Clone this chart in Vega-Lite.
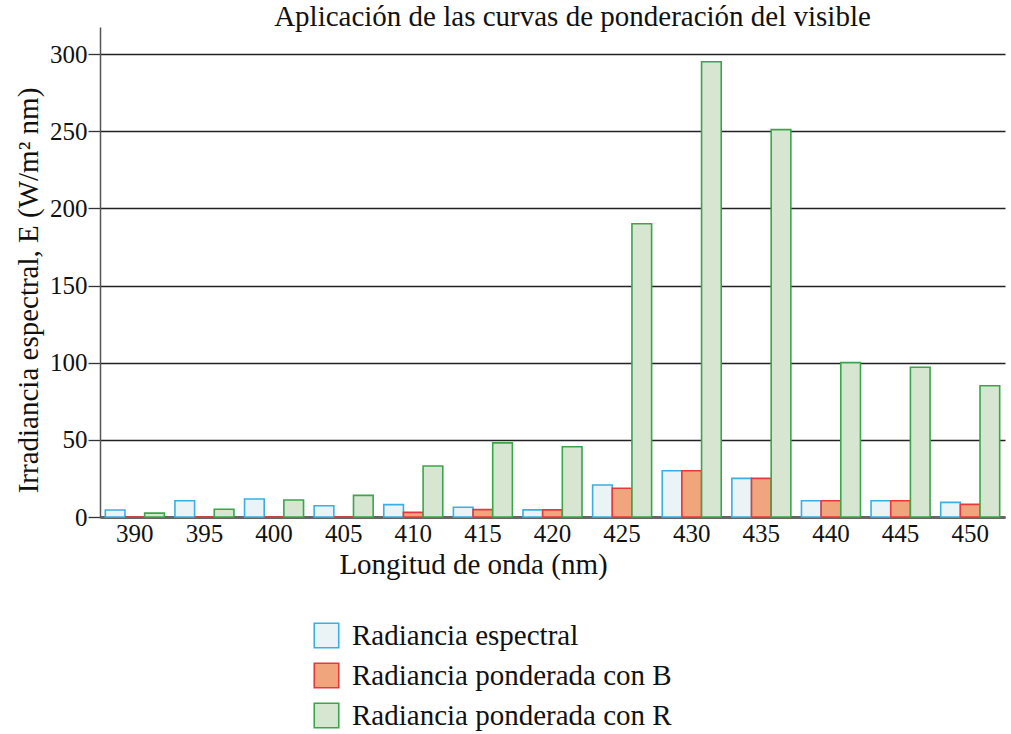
{
  "$schema": "https://vega.github.io/schema/vega-lite/v6.json",
  "width": 905,
  "height": 490,
  "autosize": "none",
  "padding": {"left": 100, "top": 27, "right": 6, "bottom": 217},
  "title": {"text": "Aplicación de las curvas de ponderación del visible", "font": "Liberation Serif", "fontSize": 29, "fontWeight": "normal", "color": "#111", "anchor": "middle", "dx": 20, "offset": 0, "baseline": "alphabetic", "dy": 28},
  "config": {
    "view": {"stroke": null},
    "font": "Liberation Serif"
  },
  "data": {"values": [
    {"wl": "390", "serie": "Radiancia espectral", "v": 4.5},
    {"wl": "390", "serie": "Radiancia ponderada con B", "v": 0},
    {"wl": "390", "serie": "Radiancia ponderada con R", "v": 2.5},
    {"wl": "395", "serie": "Radiancia espectral", "v": 10.5},
    {"wl": "395", "serie": "Radiancia ponderada con B", "v": 0},
    {"wl": "395", "serie": "Radiancia ponderada con R", "v": 5},
    {"wl": "400", "serie": "Radiancia espectral", "v": 11.7},
    {"wl": "400", "serie": "Radiancia ponderada con B", "v": 0},
    {"wl": "400", "serie": "Radiancia ponderada con R", "v": 11},
    {"wl": "405", "serie": "Radiancia espectral", "v": 7.3},
    {"wl": "405", "serie": "Radiancia ponderada con B", "v": 0},
    {"wl": "405", "serie": "Radiancia ponderada con R", "v": 14},
    {"wl": "410", "serie": "Radiancia espectral", "v": 8},
    {"wl": "410", "serie": "Radiancia ponderada con B", "v": 3},
    {"wl": "410", "serie": "Radiancia ponderada con R", "v": 33},
    {"wl": "415", "serie": "Radiancia espectral", "v": 6.3},
    {"wl": "415", "serie": "Radiancia ponderada con B", "v": 4.8},
    {"wl": "415", "serie": "Radiancia ponderada con R", "v": 48},
    {"wl": "420", "serie": "Radiancia espectral", "v": 4.6},
    {"wl": "420", "serie": "Radiancia ponderada con B", "v": 4.6},
    {"wl": "420", "serie": "Radiancia ponderada con R", "v": 45.5},
    {"wl": "425", "serie": "Radiancia espectral", "v": 20.7},
    {"wl": "425", "serie": "Radiancia ponderada con B", "v": 18.6},
    {"wl": "425", "serie": "Radiancia ponderada con R", "v": 190},
    {"wl": "430", "serie": "Radiancia espectral", "v": 30},
    {"wl": "430", "serie": "Radiancia ponderada con B", "v": 30},
    {"wl": "430", "serie": "Radiancia ponderada con R", "v": 295},
    {"wl": "435", "serie": "Radiancia espectral", "v": 25},
    {"wl": "435", "serie": "Radiancia ponderada con B", "v": 25},
    {"wl": "435", "serie": "Radiancia ponderada con R", "v": 251},
    {"wl": "440", "serie": "Radiancia espectral", "v": 10.5},
    {"wl": "440", "serie": "Radiancia ponderada con B", "v": 10.5},
    {"wl": "440", "serie": "Radiancia ponderada con R", "v": 100},
    {"wl": "445", "serie": "Radiancia espectral", "v": 10.5},
    {"wl": "445", "serie": "Radiancia ponderada con B", "v": 10.5},
    {"wl": "445", "serie": "Radiancia ponderada con R", "v": 97},
    {"wl": "450", "serie": "Radiancia espectral", "v": 9.5},
    {"wl": "450", "serie": "Radiancia ponderada con B", "v": 8.2},
    {"wl": "450", "serie": "Radiancia ponderada con R", "v": 85}
  ]},
  "mark": {"type": "bar", "strokeWidth": 1.6},
  "encoding": {
    "x": {
      "field": "wl", "type": "nominal",
      "scale": {"paddingInner": 0, "paddingOuter": 0},
      "axis": {
        "title": "Longitud de onda (nm)", "titleFont": "Liberation Serif", "titleFontSize": 29, "titleFontWeight": "normal", "titleColor": "#111",
        "titleX": 373, "titlePadding": 4,
        "labelAngle": 0, "labelFontSize": 25, "labelColor": "#111", "labelPadding": 4,
        "ticks": false, "domainColor": "#666", "domainWidth": 3, "grid": false
      }
    },
    "xOffset": {"field": "serie", "type": "nominal", "scale": {"paddingInner": 0, "paddingOuter": 0.27}},
    "y": {
      "field": "v", "type": "quantitative",
      "scale": {"domain": [0, 317.5], "nice": false, "zero": true},
      "axis": {
        "values": [0, 50, 100, 150, 200, 250, 300],
        "title": "Irradiancia espectral, E (W/m² nm)", "titleFont": "Liberation Serif", "titleFontSize": 29, "titleFontWeight": "normal", "titleColor": "#111",
        "titleX": -72, "titleY": 263, "titleAngle": -90, "titleAlign": "center", "titleBaseline": "middle",
        "labelFontSize": 25, "labelColor": "#111", "labelPadding": 1,
        "tickSize": 12, "tickColor": "#333", "tickWidth": 1.3,
        "domainColor": "#555", "domainWidth": 1.5,
        "grid": true, "gridColor": "#222", "gridWidth": 1.3
      }
    },
    "color": {
      "field": "serie", "type": "nominal",
      "scale": {"domain": ["Radiancia espectral", "Radiancia ponderada con B", "Radiancia ponderada con R"], "range": ["#eaf3f5", "#f0a57c", "#d7e6d0"]},
      "legend": {
        "title": null, "orient": "none", "legendX": 212, "legendY": 594, "direction": "vertical",
        "symbolType": "square", "symbolSize": 600, "symbolStrokeWidth": 1.6,
        "labelFont": "Liberation Serif", "labelFontSize": 29, "labelColor": "#111", "labelOffset": 11,
        "rowPadding": 9, "labelLimit": 500
      }
    },
    "stroke": {
      "field": "serie", "type": "nominal",
      "scale": {"domain": ["Radiancia espectral", "Radiancia ponderada con B", "Radiancia ponderada con R"], "range": ["#3ab0e2", "#e8383d", "#3aa64a"]},
      "legend": {
        "title": null, "orient": "none", "legendX": 212, "legendY": 594, "direction": "vertical",
        "symbolType": "square", "symbolSize": 600, "symbolStrokeWidth": 1.6,
        "labelFont": "Liberation Serif", "labelFontSize": 29, "labelColor": "#111", "labelOffset": 11,
        "rowPadding": 9, "labelLimit": 500
      }
    }
  }
}
